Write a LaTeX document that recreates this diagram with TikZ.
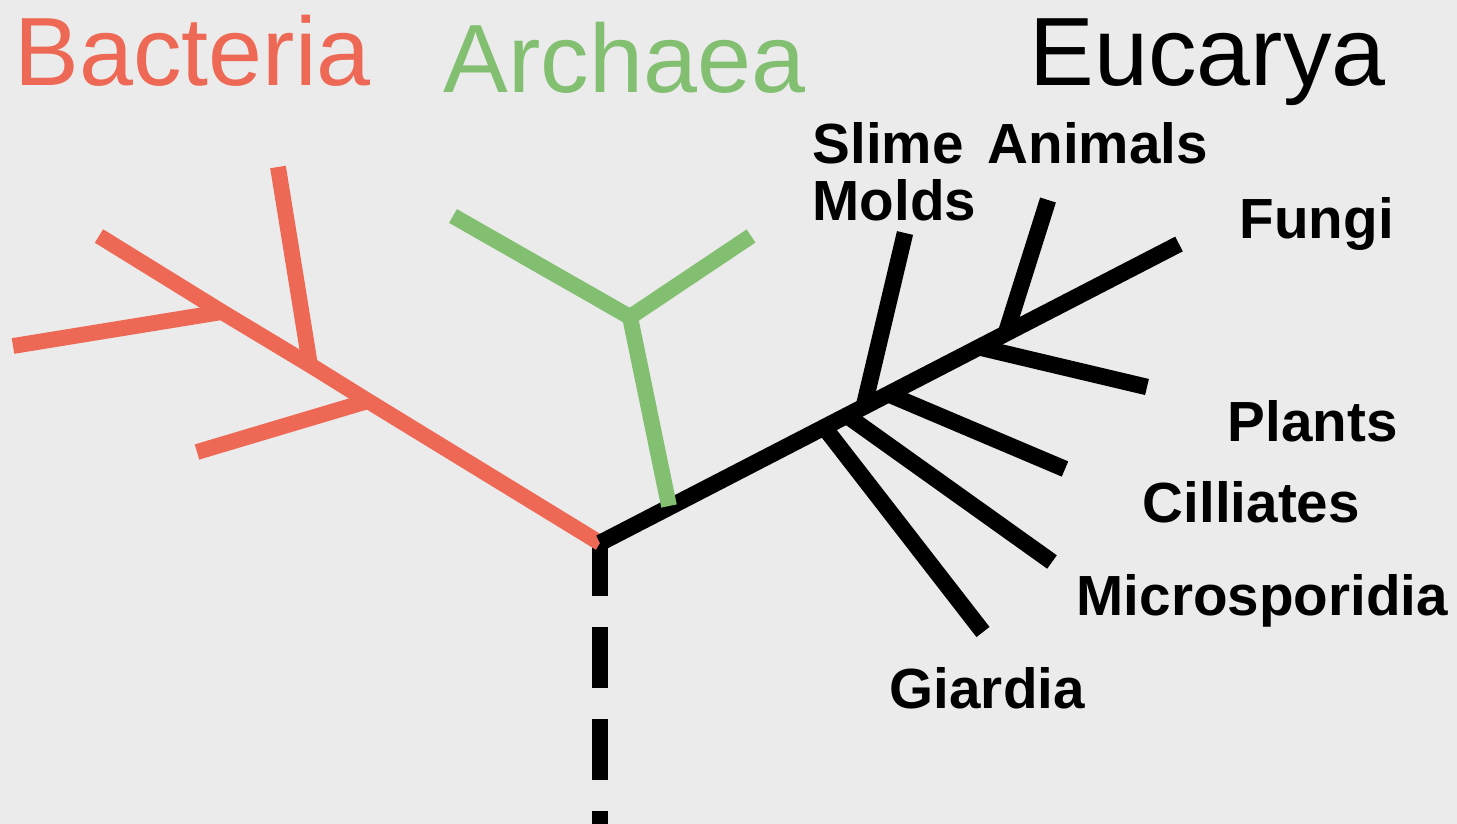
\documentclass[tikz,border=0pt]{standalone}
\usepackage{fontspec}
\setmainfont{Liberation Sans}
\definecolor{bactred}{HTML}{EE6955}
\definecolor{archgreen}{HTML}{82BF71}
\definecolor{bggrey}{HTML}{EBEBEB}

\begin{document}
\begin{tikzpicture}[x=0.01cm,y=-0.01cm,
    branch/.style={line width=4.5pt},
    ebranch/.style={line width=4.7pt},
    kingdom/.style={font=\fontsize{27.6}{30}\selectfont, anchor=base west, inner sep=0pt},
    leaf/.style={font=\fontsize{16.1}{17}\selectfont\bfseries, anchor=base west, inner sep=0pt}]
            \fill[bggrey] (0,0) rectangle (1457,824);
            \useasboundingbox (0,0) rectangle (1457,824);

            %joints
            \coordinate (root) at (600,543);
            \coordinate (bone) at (368,401);
            \coordinate (btwo) at (310,365);
            \coordinate (bthree) at (222,312);
            \coordinate (btip) at (99,236);
            \coordinate (aroot) at (669,506);
            \coordinate (ajoin) at (630,317);
            \coordinate (etip) at (1179,244);
            \coordinate (stemtop) at (600,535);
            \coordinate (stembot) at (600,830);

            %leaves
            \coordinate (bleafa) at (197,452);
            \coordinate (bleafb) at (278,167);
            \coordinate (bleafc) at (13,346);
            \coordinate (aleafa) at (453,216);
            \coordinate (aleafb) at (751,236);

            \coordinate (slmj) at (864,406);   \coordinate (slmt) at (905,233);
            \coordinate (anij) at (1006,333);  \coordinate (anit) at (1048,200);
            \coordinate (plaj) at (978,347);   \coordinate (plat) at (1147,387);
            \coordinate (cilj) at (888,394);   \coordinate (cilt) at (1065,469);
            \coordinate (micj) at (846,415);   \coordinate (mict) at (1052,562);
            \coordinate (giaj) at (824,427);   \coordinate (giat) at (983,632);

            % root stem
            \draw[line width=4.8pt, dash pattern=on 0.61cm off 0.31cm] (stemtop) -- (stembot);

            % bacteria
            \draw[branch, bactred] (root) -- (bone) -- (btwo) -- (bthree) -- (btip);
            \draw[branch, bactred] (bone) -- (bleafa);
            \draw[branch, bactred] (btwo) -- (bleafb);
            \draw[branch, bactred] (bthree) -- (bleafc);

            % eucarya
            \draw[ebranch] (root) -- (etip);
                 \foreach \j in {slm,ani,pla,cil,mic,gia}
                     \draw[ebranch] (\j j) -- (\j t);

            % archaea
            \draw[branch, archgreen] (aroot) -- (ajoin);
            \draw[branch, archgreen] (ajoin) -- (aleafa);
            \draw[branch, archgreen] (ajoin) -- (aleafb);

            %labels
            \node[kingdom, text=bactred] (bacteria) at (14,85) {Bacteria};
            \node[kingdom, text=archgreen] (archaea) at (443,93) {Archaea};
            \node[kingdom] (eucarya) at (1029,85) {Eucarya};

            \node[leaf] (slime) at (812,163) {Slime};
            \node[leaf] (molds) at (812,220) {Molds};
            \node[leaf] (animals) at (987,163) {Animals};
            \node[leaf] (fungi) at (1239,238) {Fungi};
            \node[leaf] (plants) at (1227,441) {Plants};
            \node[leaf] (cilliates) at (1142,522) {Cilliates};
            \node[leaf] (microsporidia) at (1076,615) {Microsporidia};
            \node[leaf] (giardia) at (889,708) {Giardia};
\end{tikzpicture}
\end{document}
